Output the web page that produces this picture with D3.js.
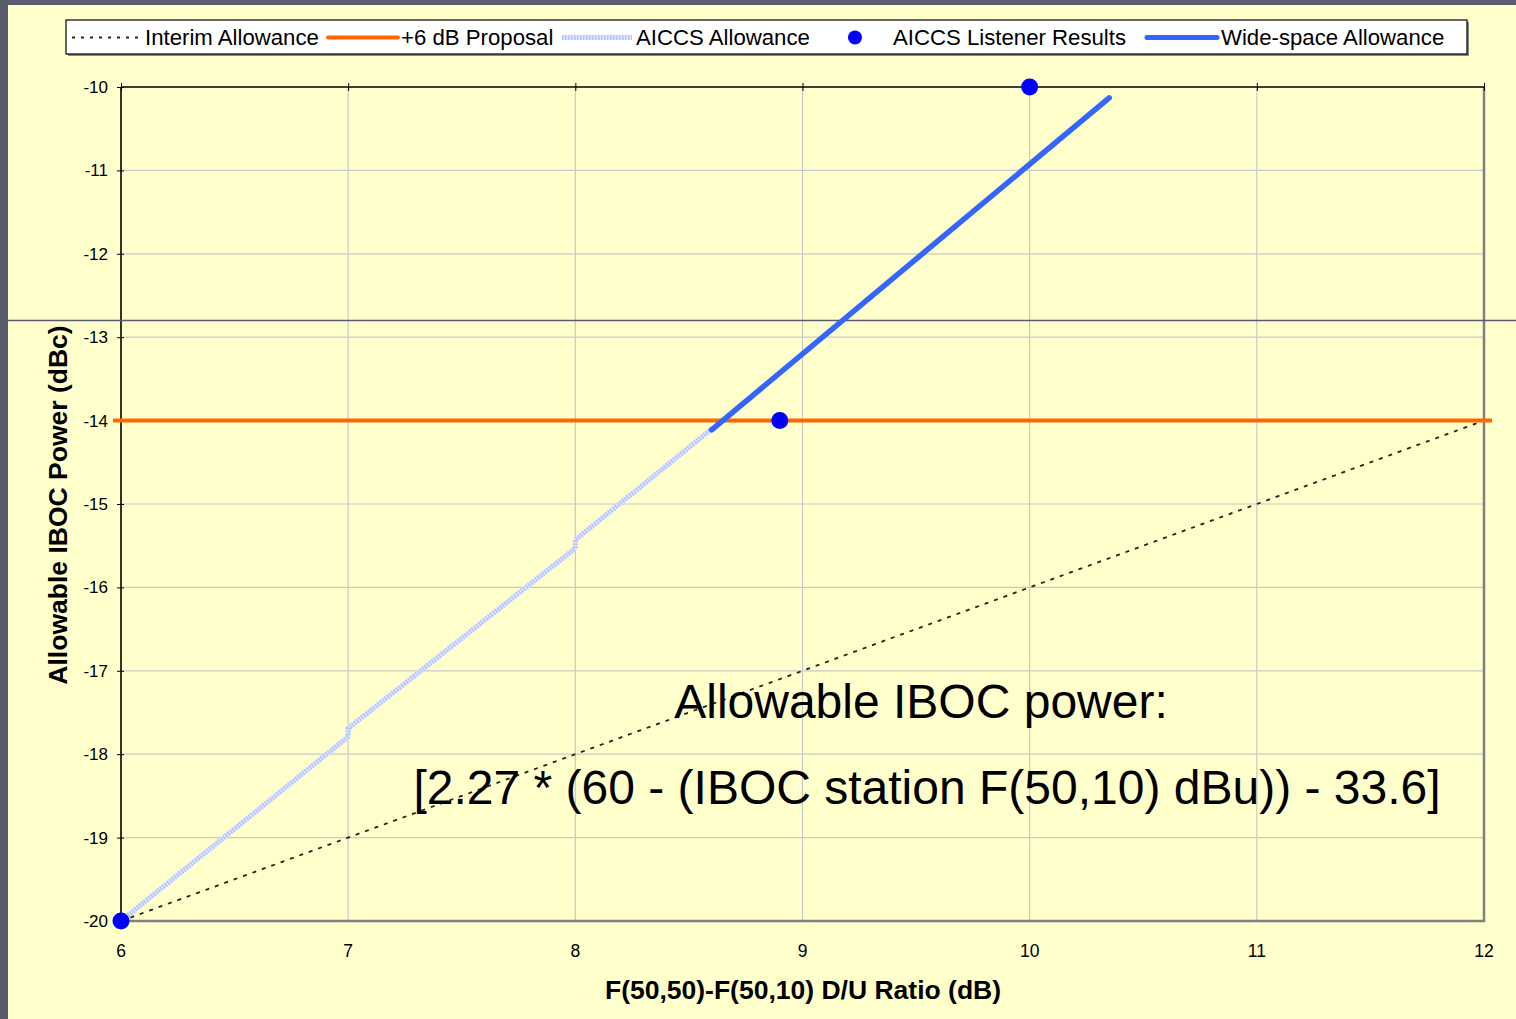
<!DOCTYPE html>
<html>
<head>
<meta charset="utf-8">
<script src="https://cdn.jsdelivr.net/npm/d3@7"></script>
<style>
  body { margin: 0; background: #ffffcc; }
  svg { display: block; font-family: "Liberation Sans", Arial, sans-serif; }
</style>
</head>
<body>
<div id="chart"></div>
<script>
// data
const xTicks = [6, 7, 8, 9, 10, 11, 12];
const yTicks = [-10, -11, -12, -13, -14, -15, -16, -17, -18, -19, -20];

const interimX = [6, 12];
const interimY = [-20, -14];

const proposalX = [5.965, 12.035];
const proposalY = [-14, -14];

// AICCS allowance has small steps at the integer ticks
const aiccsX = [6, 7, 7, 8, 8, 8.6];
const aiccsY = [-20, -17.79, -17.69, -15.53, -15.43, -14.1];

const listenerX = [6, 8.9, 10];
const listenerY = [-20, -14, -10];

const wideX = [8.6, 10.35];
const wideY = [-14.11, -10.13];

const legendLabels = ["Interim Allowance", "+6 dB Proposal", "AICCS Allowance", "AICCS Listener Results", "Wide-space Allowance"];

const W = 1516, H = 1019;
const plot = {left: 121, right: 1484, top: 87, bottom: 921};
const FONT = "'Liberation Sans', Arial, sans-serif";

const svg = d3.select("#chart").append("svg")
    .attr("width", W).attr("height", H)
    .attr("font-family", FONT);

// slide background + frame bits
svg.append("rect").attr("width", W).attr("height", H).attr("fill", "#ffffcc");
svg.append("rect").attr("width", W).attr("height", 5).attr("fill", "#5a5b6c");
svg.append("rect").attr("width", 8).attr("height", H).attr("fill", "#5a5b6c");

const x = d3.scaleLinear().domain([6, 12]).range([plot.left, plot.right]);
const y = d3.scaleLinear().domain([-20, -10]).range([plot.bottom, plot.top]);

// gridlines
svg.append("g")
    .selectAll("line")
    .data(xTicks.slice(1, -1))
    .join("line")
    .attr("x1", d => x(d)).attr("x2", d => x(d))
    .attr("y1", plot.top).attr("y2", plot.bottom)
    .attr("stroke", "#c8c8c8").attr("stroke-width", 1.2);
svg.append("g")
    .selectAll("line")
    .data(yTicks.slice(1, -1))
    .join("line")
    .attr("x1", plot.left).attr("x2", plot.right)
    .attr("y1", d => y(d)).attr("y2", d => y(d))
    .attr("stroke", "#c8c8c8").attr("stroke-width", 1.2);

// right and bottom frame (gray)
svg.append("path")
    .attr("d", `M${plot.left},${plot.bottom}H${plot.right}V${plot.top}`)
    .attr("fill", "none").attr("stroke", "#808080").attr("stroke-width", 2.5);

// top axis with crossing ticks
const xAxis = svg.append("g")
    .attr("transform", `translate(0,${plot.top})`)
    .call(d3.axisTop(x).tickValues(xTicks).tickSize(4).tickFormat(""));
xAxis.select(".domain").attr("stroke", "#000").attr("stroke-width", 1.6).attr("d", `M${plot.left},0H${plot.right}`);
xAxis.selectAll(".tick line").attr("y1", 4).attr("y2", -4).attr("stroke", "#000");

// left axis
const yAxis = svg.append("g")
    .attr("transform", `translate(${plot.left},0)`)
    .call(d3.axisLeft(y).tickValues(yTicks).tickSize(4).tickPadding(9).tickFormat(d => String(d)));
yAxis.attr("font-family", FONT);
yAxis.select(".domain").attr("stroke", "#000").attr("stroke-width", 1.6).attr("d", `M0,${plot.top}V${plot.bottom}`);
yAxis.selectAll(".tick line").attr("x1", 3).attr("x2", -4).attr("stroke", "#000");
yAxis.selectAll(".tick text").attr("font-size", 17).attr("fill", "#000");

// x tick labels at bottom
svg.append("g")
    .selectAll("text")
    .data(xTicks)
    .join("text")
    .attr("x", d => x(d)).attr("y", 957)
    .attr("text-anchor", "middle")
    .attr("font-size", 17.5)
    .text(d => d);

// slide divider line
svg.append("line")
    .attr("x1", 8).attr("x2", W).attr("y1", 320.5).attr("y2", 320.5)
    .attr("stroke", "#5a5b6c").attr("stroke-width", 1.6);

const line = d3.line().x(d => x(d[0])).y(d => y(d[1]));

// interim allowance (dotted)
svg.append("path")
    .attr("d", line(d3.zip(interimX, interimY)))
    .attr("fill", "none").attr("stroke", "#222").attr("stroke-width", 1.8)
    .attr("stroke-dasharray", "4,6");

// AICCS allowance (light hatched)
const aiccsPath = line(d3.zip(aiccsX, aiccsY));
svg.append("path").attr("d", aiccsPath)
    .attr("fill", "none").attr("stroke", "#dfe5ff").attr("stroke-width", 5);
svg.append("path").attr("d", aiccsPath)
    .attr("fill", "none").attr("stroke", "#b4c4ff").attr("stroke-width", 5)
    .attr("stroke-dasharray", "1.5,1.5");

// +6 dB proposal (orange)
svg.append("path")
    .attr("d", line(d3.zip(proposalX, proposalY)))
    .attr("fill", "none").attr("stroke", "#ff6600").attr("stroke-width", 4);

// wide-space allowance
svg.append("path")
    .attr("d", line(d3.zip(wideX, wideY)))
    .attr("fill", "none").attr("stroke", "#3366ff").attr("stroke-width", 5.5)
    .attr("stroke-linecap", "round");

// listener results
svg.append("g")
    .selectAll("circle")
    .data(d3.zip(listenerX, listenerY))
    .join("circle")
    .attr("cx", d => x(d[0])).attr("cy", d => y(d[1]))
    .attr("r", 8.5).attr("fill", "#0000ff");

// annotation
svg.append("text")
    .attr("x", 921).attr("y", 718)
    .attr("text-anchor", "middle").attr("font-size", 48)
    .text("Allowable IBOC power:");
svg.append("text")
    .attr("x", 927).attr("y", 804)
    .attr("text-anchor", "middle").attr("font-size", 48)
    .text("[2.27 * (60 - (IBOC station F(50,10) dBu)) - 33.6]");

// axis titles
svg.append("text")
    .attr("transform", `translate(67,505) rotate(-90)`)
    .attr("text-anchor", "middle").attr("font-size", 26.5).attr("font-weight", "bold")
    .text("Allowable IBOC Power (dBc)");
svg.append("text")
    .attr("x", 803).attr("y", 999)
    .attr("text-anchor", "middle").attr("font-size", 26.5).attr("font-weight", "bold")
    .text("F(50,50)-F(50,10) D/U Ratio (dB)");

// legend
const lg = svg.append("g");
lg.append("rect").attr("x", 68).attr("y", 22).attr("width", 1401).attr("height", 34).attr("fill", "#888");
lg.append("rect").attr("x", 66).attr("y", 20).attr("width", 1401).attr("height", 34)
    .attr("fill", "#fff").attr("stroke", "#000").attr("stroke-width", 1.2);

const legendSym = [72, 328, 562, 820, 1147];
const legendText = [145, 401, 636, 893, 1221];
const ly = 37.5;

lg.append("line").attr("x1", legendSym[0]).attr("x2", legendSym[0] + 68).attr("y1", ly).attr("y2", ly)
    .attr("stroke", "#222").attr("stroke-width", 2).attr("stroke-dasharray", "3,6");
lg.append("line").attr("x1", legendSym[1]).attr("x2", legendSym[1] + 70).attr("y1", ly).attr("y2", ly)
    .attr("stroke", "#ff6600").attr("stroke-width", 4).attr("stroke-linecap", "round");
lg.append("line").attr("x1", legendSym[2]).attr("x2", legendSym[2] + 70).attr("y1", ly).attr("y2", ly)
    .attr("stroke", "#dfe5ff").attr("stroke-width", 5);
lg.append("line").attr("x1", legendSym[2]).attr("x2", legendSym[2] + 70).attr("y1", ly).attr("y2", ly)
    .attr("stroke", "#b4c4ff").attr("stroke-width", 5).attr("stroke-dasharray", "1.5,1.5");
lg.append("circle").attr("cx", 855).attr("cy", ly).attr("r", 7).attr("fill", "#0000ff");
lg.append("line").attr("x1", legendSym[4]).attr("x2", legendSym[4] + 70).attr("y1", ly).attr("y2", ly)
    .attr("stroke", "#3366ff").attr("stroke-width", 5).attr("stroke-linecap", "round");

lg.selectAll("text.lbl")
    .data(legendLabels)
    .join("text")
    .attr("class", "lbl")
    .attr("x", (d, i) => legendText[i]).attr("y", ly + 7.5)
    .attr("font-size", 22.2)
    .text(d => d);
</script>
</body>
</html>
